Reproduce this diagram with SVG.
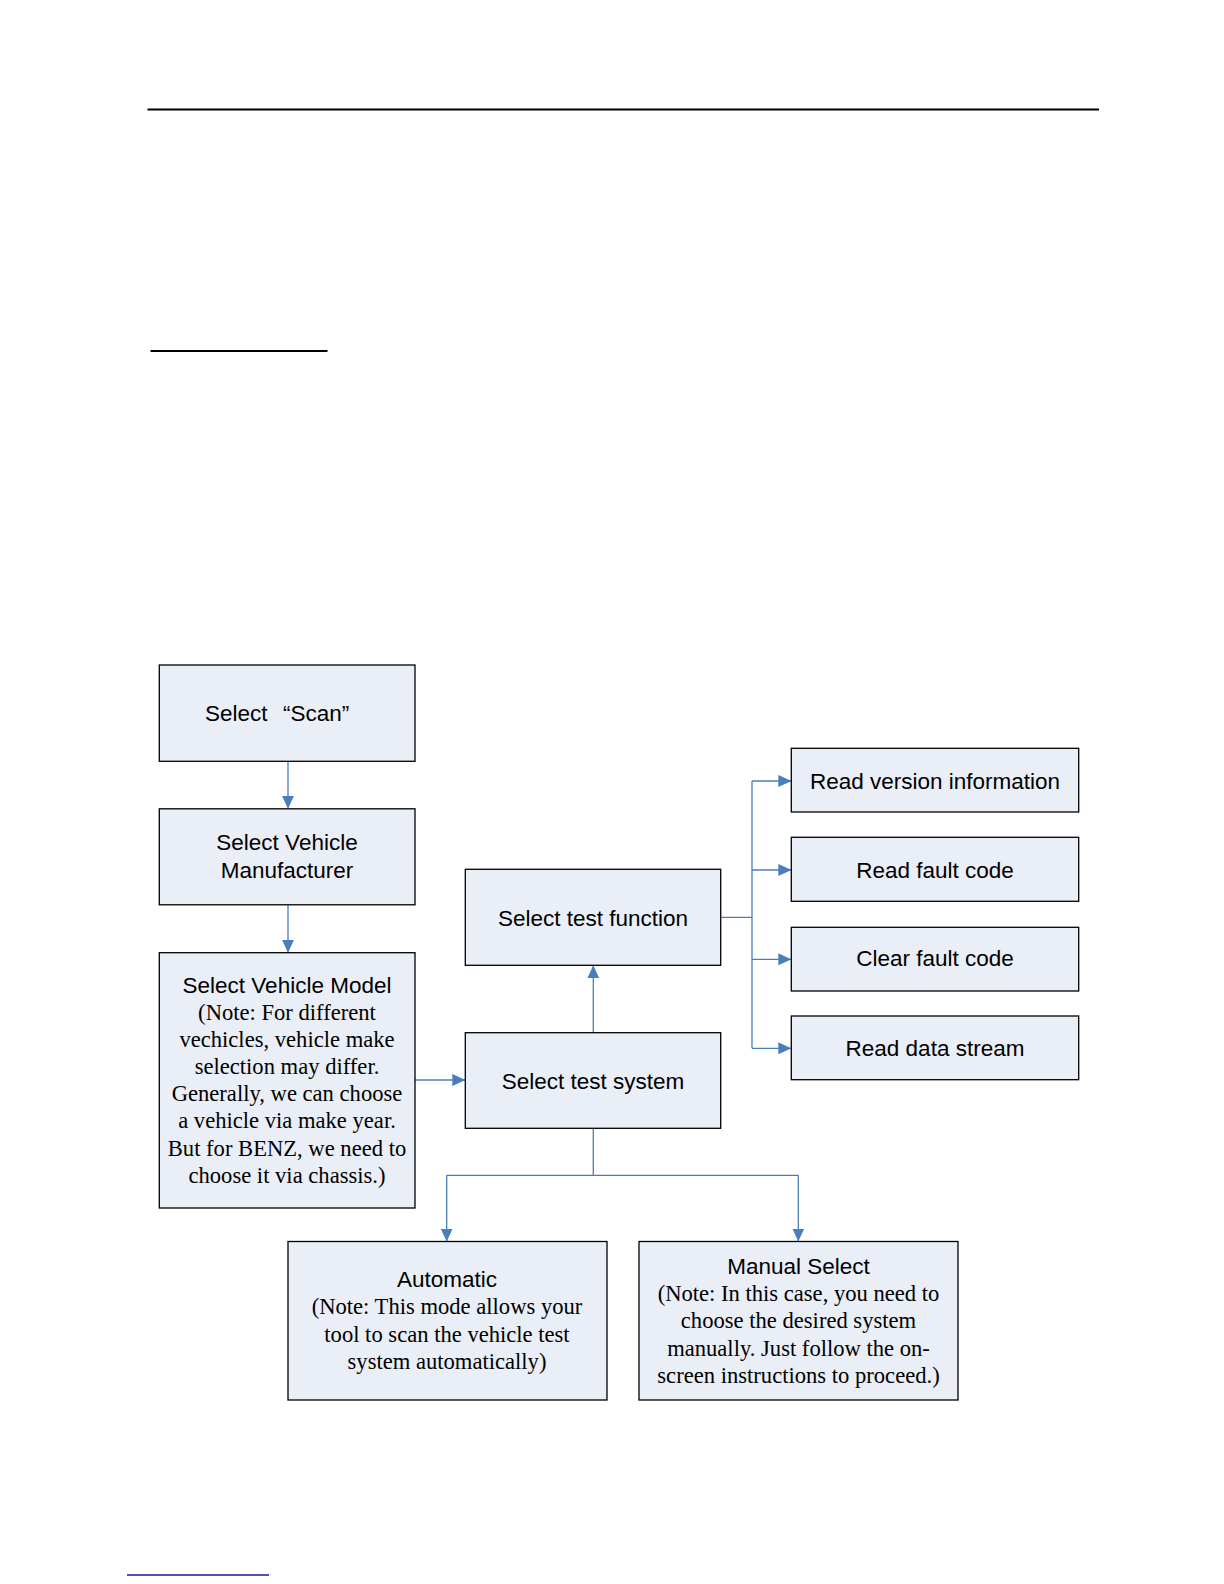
<svg xmlns="http://www.w3.org/2000/svg" width="1224" height="1584" viewBox="0 0 1224 1584">
<defs>
<style>
.box{fill:#e9eef7;stroke:#000;stroke-width:1.3}
.sans{font-family:"Liberation Sans",Arial,sans-serif;font-size:22.5px;fill:#000;text-anchor:middle}
.serif{font-family:"Liberation Serif","Times New Roman",serif;font-size:22.6px;fill:#000;text-anchor:middle}
.conn{fill:none;stroke:#4a7ebb;stroke-width:1.3}
.arr{marker-end:url(#ah)}
</style>
<marker id="ah" markerUnits="userSpaceOnUse" markerWidth="13" markerHeight="12" refX="13" refY="6" orient="auto">
<path d="M0,0 L13,6 L0,12 z" fill="#4a7ebb"/>
</marker>
</defs>
<rect width="1224" height="1584" fill="#fff"/>
<line x1="147.5" y1="109.5" x2="1099" y2="109.5" stroke="#000" stroke-width="2.2"/>
<line x1="150.5" y1="351" x2="327.5" y2="351" stroke="#000" stroke-width="2.2"/>
<line x1="127" y1="1575" x2="269" y2="1575" stroke="#1a1a8c" stroke-width="1.5"/>

<g id="connectors">
<path class="conn arr" d="M288,761.3 V808.8"/>
<path class="conn arr" d="M288,904.8 V952.7"/>
<path class="conn arr" d="M414.3,1080 H465.3"/>
<path class="conn arr" d="M593.3,1032.7 V965.3"/>
<path class="conn" d="M720.7,917.3 H752 M752,781 V1048.3"/>
<path class="conn arr" d="M752,781 H791.3"/>
<path class="conn arr" d="M752,870 H791.3"/>
<path class="conn arr" d="M752,959.3 H791.3"/>
<path class="conn arr" d="M752,1048.3 H791.3"/>
<path class="conn" d="M593.3,1127.7 V1175.3 M446.7,1175.3 H798.3"/>
<path class="conn arr" d="M446.7,1175.3 V1241.5"/>
<path class="conn arr" d="M798.3,1175.3 V1241.5"/>
</g>

<g id="node-scan">
<rect class="box" x="159.3" y="665" width="255.7" height="96.3"/>
<text class="sans" x="283" y="721" style="text-anchor:start"><tspan x="205">Select</tspan><tspan x="283">“Scan”</tspan></text>
</g>
<g id="node-manufacturer">
<rect class="box" x="159.3" y="808.8" width="255.7" height="96"/>
<text class="sans" x="287" y="850">Select Vehicle</text>
<text class="sans" x="287" y="877.5">Manufacturer</text>
</g>
<g id="node-model">
<rect class="box" x="159.3" y="952.7" width="255.7" height="255.3"/>
<text class="sans" x="287" y="993">Select Vehicle Model</text>
<text class="serif" x="287" y="1020">(Note: For different</text>
<text class="serif" x="287" y="1047.3">vechicles, vehicle make</text>
<text class="serif" x="287" y="1073.6">selection may differ.</text>
<text class="serif" x="287" y="1100.9">Generally, we can choose</text>
<text class="serif" x="287" y="1128.2">a vehicle via make year.</text>
<text class="serif" x="287" y="1155.5">But for BENZ, we need to</text>
<text class="serif" x="287" y="1182.8">choose it via chassis.)</text>
</g>
<g id="node-function">
<rect class="box" x="465.3" y="869.3" width="255.4" height="96"/>
<text class="sans" x="593" y="926">Select test function</text>
</g>
<g id="node-system">
<rect class="box" x="465.3" y="1032.7" width="255.4" height="95.6"/>
<text class="sans" x="593" y="1089">Select test system</text>
</g>
<g id="node-version">
<rect class="box" x="791.3" y="748.3" width="287.4" height="63.7"/>
<text class="sans" x="935" y="788.5">Read version information</text>
</g>
<g id="node-readfault">
<rect class="box" x="791.3" y="837.3" width="287.4" height="64"/>
<text class="sans" x="935" y="877.5">Read fault code</text>
</g>
<g id="node-clearfault">
<rect class="box" x="791.3" y="927.3" width="287.4" height="63.7"/>
<text class="sans" x="935" y="966.4">Clear fault code</text>
</g>
<g id="node-datastream">
<rect class="box" x="791.3" y="1016" width="287.4" height="63.7"/>
<text class="sans" x="935" y="1056.4">Read data stream</text>
</g>
<g id="node-automatic">
<rect class="box" x="288" y="1241.5" width="319" height="158.5"/>
<text class="sans" x="447" y="1287">Automatic</text>
<text class="serif" x="447" y="1314.2">(Note: This mode allows your</text>
<text class="serif" x="447" y="1341.5">tool to scan the vehicle test</text>
<text class="serif" x="447" y="1368.8">system automatically)</text>
</g>
<g id="node-manual">
<rect class="box" x="639" y="1241.5" width="319" height="158.5"/>
<text class="sans" x="798.5" y="1273.8">Manual Select</text>
<text class="serif" x="798.5" y="1301.1">(Note: In this case, you need to</text>
<text class="serif" x="798.5" y="1328.4">choose the desired system</text>
<text class="serif" x="798.5" y="1355.7">manually. Just follow the on-</text>
<text class="serif" x="798.5" y="1383">screen instructions to proceed.)</text>
</g>
</svg>
